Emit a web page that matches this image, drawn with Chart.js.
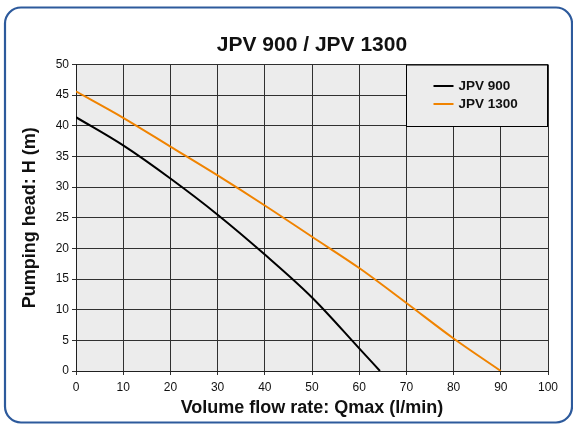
<!DOCTYPE html>
<html>
<head>
<meta charset="utf-8">
<script src="https://cdn.jsdelivr.net/npm/chart.js@4.4.1/dist/chart.umd.min.js"></script>
<style>
html,body{margin:0;padding:0;background:#ffffff;overflow:hidden;}
#wrap{width:573px;height:426px;position:relative;}
canvas{display:block;}
</style>
</head>
<body>
<div id="wrap"><canvas id="c" width="573" height="426"></canvas></div>
<script>
// ---- data ----
const chartTitle = 'JPV 900 / JPV 1300';
const xAxisTitle = 'Volume flow rate: Qmax (l/min)';
const yAxisTitle = 'Pumping head: H (m)';
const seriesNames = ['JPV 900', 'JPV 1300'];

const flowJPV900 = [0, 10, 20, 30, 40, 50, 60, 64.4];
const headJPV900 = [41.4, 36.8, 31.4, 25.5, 19.0, 12.0, 3.7, 0];

const flowJPV1300 = [0, 10, 20, 30, 40, 50, 60, 70, 80, 90];
const headJPV1300 = [45.6, 41.3, 36.6, 31.9, 27.0, 21.9, 16.8, 11.1, 5.3, 0];

const xTickValues = [0, 10, 20, 30, 40, 50, 60, 70, 80, 90, 100];
const yTickValues = [0, 5, 10, 15, 20, 25, 30, 35, 40, 45, 50];

const seriesColors = ['#000000', '#f08300'];

// ---- build ----
const FONT = '"Liberation Sans", Arial, Helvetica, sans-serif';
const toPoints = (xs, ys) => xs.map((x, i) => ({ x: x, y: ys[i] }));

const frameAndBackground = {
  id: 'frameAndBackground',
  beforeDraw(chart) {
    const ctx = chart.ctx;
    const a = chart.chartArea;
    ctx.save();
    ctx.fillStyle = '#ffffff';
    ctx.fillRect(0, 0, chart.width, chart.height);
    ctx.strokeStyle = '#2d5a9c';
    ctx.lineWidth = 2.2;
    ctx.beginPath();
    ctx.roundRect(5, 7.5, 567, 415, 16);
    ctx.stroke();
    ctx.fillStyle = '#ececec';
    ctx.fillRect(a.left, a.top, a.right - a.left, a.bottom - a.top);
    ctx.restore();
  }
};

const boxedLegend = {
  id: 'boxedLegend',
  afterDatasetsDraw(chart) {
    const ctx = chart.ctx;
    const xs = chart.scales.x, ys = chart.scales.y;
    const left = Math.round(xs.getPixelForValue(70)) + 0.5;
    const right = chart.chartArea.right - 0.5;
    const top = chart.chartArea.top + 0.5;
    const bottom = Math.round(ys.getPixelForValue(40)) + 0.5;
    ctx.save();
    ctx.fillStyle = '#ececec';
    ctx.fillRect(left, top, right - left, bottom - top);
    ctx.strokeStyle = '#000000';
    ctx.lineWidth = 1;
    ctx.strokeRect(left, top, right - left, bottom - top);
    ctx.font = 'bold 13.5px ' + FONT;
    ctx.textBaseline = 'middle';
    ctx.textAlign = 'left';
    chart.data.datasets.forEach((ds, i) => {
      const y = top + 21 + i * 18;
      ctx.strokeStyle = ds.borderColor;
      ctx.lineWidth = 2;
      ctx.beginPath();
      ctx.moveTo(left + 27, y);
      ctx.lineTo(left + 47, y);
      ctx.stroke();
      ctx.fillStyle = '#111111';
      ctx.fillText(ds.label, left + 52, y + 0.5);
    });
    ctx.restore();
  }
};

new Chart(document.getElementById('c'), {
  type: 'line',
  data: {
    datasets: [
      {
        label: seriesNames[0],
        data: toPoints(flowJPV900, headJPV900),
        borderColor: seriesColors[0],
        backgroundColor: seriesColors[0],
        borderWidth: 2,
        pointRadius: 0,
        cubicInterpolationMode: 'monotone',
        fill: false
      },
      {
        label: seriesNames[1],
        data: toPoints(flowJPV1300, headJPV1300),
        borderColor: seriesColors[1],
        backgroundColor: seriesColors[1],
        borderWidth: 2,
        pointRadius: 0,
        cubicInterpolationMode: 'monotone',
        fill: false
      }
    ]
  },
  options: {
    responsive: false,
    animation: false,
    devicePixelRatio: 1,
    layout: { padding: { left: 0, top: 0, right: 25, bottom: 0 } },
    plugins: {
      legend: { display: false },
      tooltip: { enabled: false },
      title: {
        display: true,
        fullSize: false,
        text: chartTitle,
        color: '#111111',
        font: { family: FONT, size: 21, weight: 'bold', lineHeight: 1.2 },
        padding: { top: 32.3, bottom: 7.0 }
      }
    },
    scales: {
      x: {
        type: 'linear',
        min: 0,
        max: 100,
        afterFit(scale) { scale.height = 55; },
        afterBuildTicks(scale) { scale.ticks = xTickValues.map(v => ({ value: v })); },
        ticks: {
          color: '#111111',
          font: { family: FONT, size: 12 },
          padding: 5,
          maxRotation: 0,
          autoSkip: false
        },
        grid: { color: '#303030', lineWidth: 1, tickLength: 4, drawTicks: true, tickColor: '#303030' },
        border: { color: '#202020', width: 1 },
        title: {
          display: true,
          text: xAxisTitle,
          color: '#111111',
          font: { family: FONT, size: 18, weight: 'bold', lineHeight: 1.2 },
          padding: { top: 0, bottom: 7.2 }
        }
      },
      y: {
        type: 'linear',
        min: 0,
        max: 50,
        afterFit(scale) { scale.width = 76; },
        afterBuildTicks(scale) { scale.ticks = yTickValues.map(v => ({ value: v })); },
        ticks: {
          color: '#111111',
          font: { family: FONT, size: 12 },
          padding: 3,
          autoSkip: false
        },
        grid: { color: '#303030', lineWidth: 1, tickLength: 4, drawTicks: true, tickColor: '#303030' },
        border: { color: '#202020', width: 1 },
        title: {
          display: true,
          text: yAxisTitle,
          color: '#111111',
          font: { family: FONT, size: 18, weight: 'bold', lineHeight: 1.2 },
          padding: { top: 19, bottom: 0 }
        }
      }
    }
  },
  plugins: [frameAndBackground, boxedLegend]
});
</script>
</body>
</html>
